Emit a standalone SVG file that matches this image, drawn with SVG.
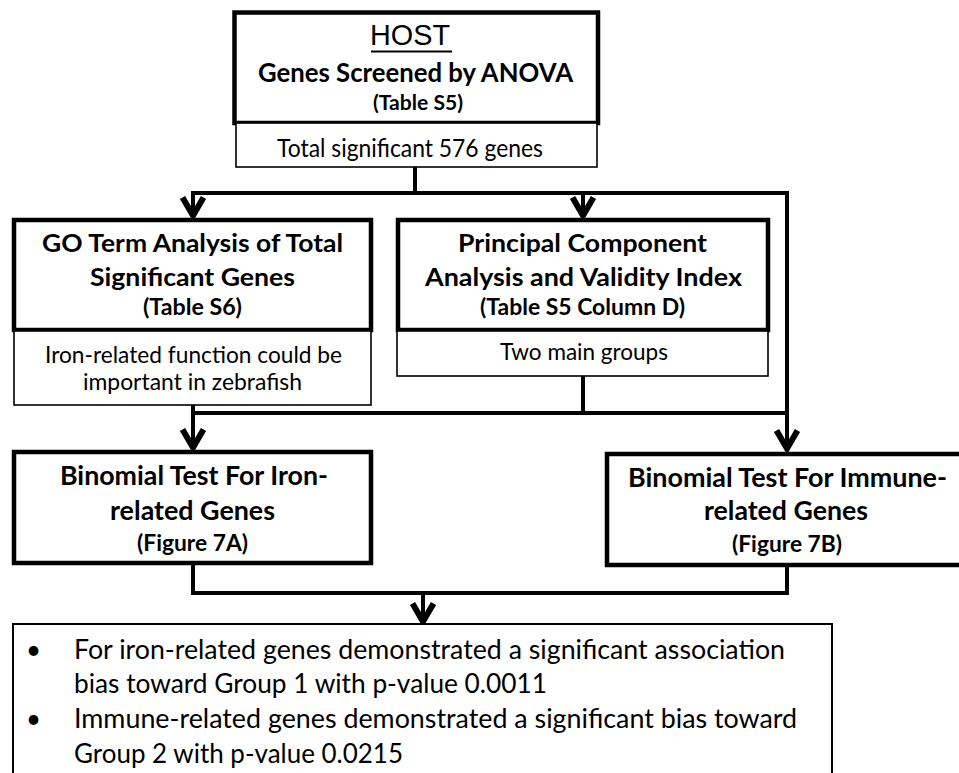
<svg xmlns="http://www.w3.org/2000/svg" width="959" height="773" viewBox="0 0 959 773">
<defs>
<style>
.thick{fill:#fff;stroke:#000;stroke-width:4.5}
.thin{fill:#fff;stroke:#000;stroke-width:1.6}
.wire{fill:none;stroke:#000;stroke-width:4}
.b{font-family:Lato,"Open Sans","Liberation Sans",sans-serif;font-weight:bold;text-anchor:middle;fill:#000}
.r{font-family:Lato,"Open Sans","Liberation Sans",sans-serif;font-weight:normal;text-anchor:middle;fill:#000}
.l{font-family:Lato,"Open Sans","Liberation Sans",sans-serif;font-weight:normal;font-size:26px;fill:#000}
</style>
<marker id="arr" markerUnits="userSpaceOnUse" markerWidth="30" markerHeight="30" viewBox="-16 -10 20 20" refX="0" refY="0" orient="auto" overflow="visible">
<path d="M-13,-7 L-1,0 L-13,7" fill="none" stroke="#000" stroke-width="4"/>
</marker>
</defs>
<rect width="959" height="773" fill="#fff"/>

<g id="connectors">
<path class="wire" d="M415,167 V193"/>
<path class="wire" d="M191,193 H789"/>
<path class="wire" d="M193,191 V217" marker-end="url(#arr)"/>
<path class="wire" d="M583,193 V217" marker-end="url(#arr)"/>
<path class="wire" d="M787,191 V450" marker-end="url(#arr)"/>
<path class="wire" d="M583,376 V413"/>
<path class="wire" d="M191,413 H787"/>
<path class="wire" d="M193,405 V449" marker-end="url(#arr)"/>
<path class="wire" d="M193,563 V593 H787 V565"/>
<path class="wire" d="M423,593 V623" marker-end="url(#arr)"/>
</g>

<g id="host">
<rect class="thick" x="234.5" y="12.5" width="363.5" height="110.5"/>
<text x="410" y="45" style="font-family:'Liberation Sans',Arial,sans-serif;font-size:29px" text-anchor="middle" textLength="80" lengthAdjust="spacingAndGlyphs">HOST</text>
<line x1="371" y1="51.5" x2="452" y2="51.5" stroke="#000" stroke-width="2"/>
<text class="b" x="415.5" y="82" font-size="26" textLength="315" lengthAdjust="spacingAndGlyphs">Genes Screened by ANOVA</text>
<text class="b" x="418" y="109.5" font-size="21" textLength="90" lengthAdjust="spacingAndGlyphs">(Table S5)</text>
</g>
<g id="host-result">
<rect class="thin" x="236" y="123" width="361" height="44"/>
<text class="r" x="410" y="157" font-size="25" textLength="266" lengthAdjust="spacingAndGlyphs">Total significant 576 genes</text>
</g>

<g id="go">
<rect class="thick" x="14" y="220" width="357" height="110"/>
<text class="b" x="192.5" y="252" font-size="24.5" textLength="301" lengthAdjust="spacingAndGlyphs">GO Term Analysis of Total</text>
<text class="b" x="192.5" y="286" font-size="24.5" textLength="205" lengthAdjust="spacingAndGlyphs">Significant Genes</text>
<text class="b" x="192.5" y="315" font-size="22.5" textLength="99" lengthAdjust="spacingAndGlyphs">(Table S6)</text>
</g>
<g id="go-result">
<rect class="thin" x="14" y="331" width="357" height="74"/>
<text class="r" x="193.5" y="363" font-size="24" textLength="297" lengthAdjust="spacingAndGlyphs">Iron-related function could be</text>
<text class="r" x="192.5" y="390" font-size="24" textLength="219" lengthAdjust="spacingAndGlyphs">important in zebrafish</text>
</g>

<g id="pca">
<rect class="thick" x="398" y="220" width="370" height="110"/>
<text class="b" x="582.5" y="252" font-size="24.5" textLength="249" lengthAdjust="spacingAndGlyphs">Principal Component</text>
<text class="b" x="583.5" y="286" font-size="24.5" textLength="317" lengthAdjust="spacingAndGlyphs">Analysis and Validity Index</text>
<text class="b" x="582.5" y="315" font-size="22" textLength="205" lengthAdjust="spacingAndGlyphs">(Table S5 Column D)</text>
</g>
<g id="pca-result">
<rect class="thin" x="397" y="331" width="371" height="45"/>
<text class="r" x="584" y="360" font-size="24" textLength="168" lengthAdjust="spacingAndGlyphs">Two main groups</text>
</g>

<g id="iron">
<rect class="thick" x="14" y="452" width="357" height="111"/>
<text class="b" x="194" y="485" font-size="27" textLength="268" lengthAdjust="spacingAndGlyphs">Binomial Test For Iron-</text>
<text class="b" x="192.5" y="520" font-size="27" textLength="165" lengthAdjust="spacingAndGlyphs">related Genes</text>
<text class="b" x="192.5" y="551" font-size="22.5" textLength="111" lengthAdjust="spacingAndGlyphs">(Figure 7A)</text>
</g>

<g id="immune">
<rect class="thick" x="607" y="454" width="362" height="111"/>
<text class="b" x="787.5" y="487" font-size="27" textLength="319" lengthAdjust="spacingAndGlyphs">Binomial Test For Immune-</text>
<text class="b" x="786" y="520" font-size="27" textLength="164" lengthAdjust="spacingAndGlyphs">related Genes</text>
<text class="b" x="787" y="552" font-size="22.5" textLength="110" lengthAdjust="spacingAndGlyphs">(Figure 7B)</text>
</g>

<g id="conclusion">
<rect x="13" y="624" width="819" height="170" fill="#fff" stroke="#000" stroke-width="2"/>
<text class="l" x="26" y="659">•</text>
<text class="l" x="74" y="659" textLength="711" lengthAdjust="spacingAndGlyphs">For iron-related genes demonstrated a significant association</text>
<text class="l" x="74" y="693" textLength="473" lengthAdjust="spacingAndGlyphs">bias toward Group 1 with p-value 0.0011</text>
<text class="l" x="26" y="728">•</text>
<text class="l" x="74" y="728" textLength="723" lengthAdjust="spacingAndGlyphs">Immune-related genes demonstrated a significant bias toward</text>
<text class="l" x="74" y="763" textLength="329" lengthAdjust="spacingAndGlyphs">Group 2 with p-value 0.0215</text>
</g>
</svg>
